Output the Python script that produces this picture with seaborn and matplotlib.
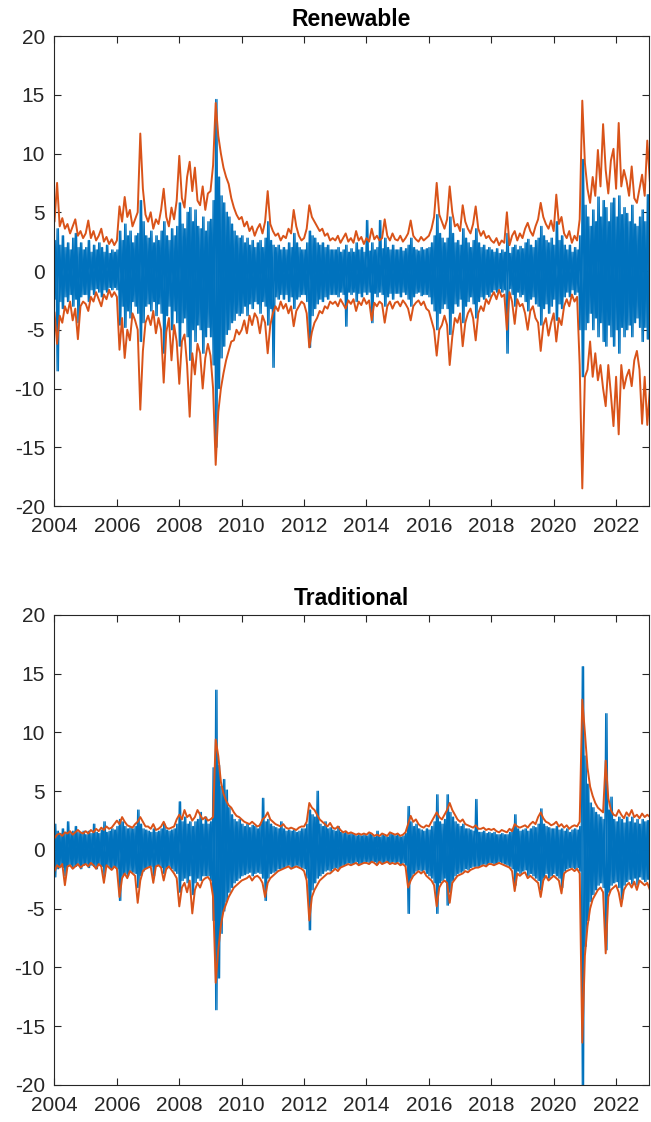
import numpy as np
import pandas as pd
import matplotlib
matplotlib.use("Agg")
import matplotlib.pyplot as plt
import seaborn as sns

# monthly readings, Jan 2004 .. Feb 2023 (one row per year)
months = pd.date_range("2004-01-01", "2023-02-01", freq="MS")

# Renewable: upper / lower band (orange) and return extremes (blue)
ren_upper = [
    4.2, 7.5, 3.8, 4.5, 3.6, 4.0, 3.2, 3.8, 4.4, 3.0, 3.4, 2.8,
    3.2, 4.3, 2.8, 3.4, 2.6, 3.0, 3.6, 2.5, 2.9, 2.3, 2.7, 2.2,
    2.6, 5.5, 4.2, 6.3, 4.6, 5.2, 3.8, 4.4, 5.0, 11.7, 7.0, 4.8,
    4.2, 5.0, 3.6, 4.4, 4.0, 5.2, 7.0, 4.6, 3.8, 5.4, 4.4, 6.0,
    9.8, 6.2, 5.4, 8.0, 9.3, 6.8, 8.8, 6.0, 5.6, 7.2, 5.2, 6.6,
    6.8, 9.0, 14.3, 11.5, 10.0, 8.8, 8.0, 7.4, 6.2, 5.4, 4.8, 4.4,
    4.6, 3.8, 4.2, 3.4, 3.8, 3.0, 3.6, 4.0, 3.2, 4.2, 6.8, 4.0,
    3.4, 3.0, 3.2, 2.6, 3.0, 2.8, 3.6, 3.2, 5.2, 3.8, 3.0, 2.6,
    2.8, 3.6, 5.6, 4.6, 4.2, 3.8, 3.4, 3.6, 3.0, 3.2, 2.6, 2.8,
    2.6, 3.0, 2.4, 2.8, 3.2, 2.5, 2.8, 2.4, 3.4, 2.6, 2.9, 2.3,
    2.8, 2.5, 3.6, 2.7, 3.0, 2.6, 2.8, 4.4, 3.0, 2.6, 3.2, 2.7,
    2.6, 3.0, 2.5, 2.8, 3.2, 4.3, 3.0, 2.7, 2.5, 2.9, 2.6, 2.8,
    3.0, 3.6, 4.6, 7.5, 4.8, 4.2, 3.6, 4.4, 7.2, 5.0, 3.8, 4.0,
    3.4, 5.6, 4.2, 3.6, 3.2, 4.0, 5.5, 3.6, 3.0, 3.4, 2.8, 3.0,
    2.6, 2.4, 2.8, 2.2, 2.6, 2.4, 5.0, 2.2, 3.0, 3.4, 2.6, 3.2,
    2.8, 3.6, 4.1, 3.4, 3.0, 3.8, 4.4, 5.8, 4.6, 4.0, 3.6, 4.3,
    3.4, 6.5, 4.0, 4.6, 3.2, 2.8, 3.4, 2.4, 3.0, 2.6, 4.4, 14.5,
    9.2, 7.0, 5.8, 8.0, 6.4, 10.3, 7.2, 12.5, 8.6, 6.6, 9.4, 10.4,
    7.0, 12.6, 7.2, 8.6, 7.7, 6.4, 8.9, 6.2, 5.8, 7.0, 8.2, 6.4,
    11.1, 7.6,
]
ren_lower = [
    -3.5, -6.2, -3.8, -4.4, -3.0, -3.6, -2.6, -4.2, -3.2, -5.8, -3.0, -2.6,
    -2.8, -3.4, -2.2, -2.6, -1.8, -2.4, -3.0, -2.0, -2.4, -1.6, -2.2, -1.8,
    -2.2, -6.7, -4.0, -7.4, -5.0, -5.9, -3.6, -4.2, -5.0, -11.8, -6.8, -4.4,
    -3.8, -4.6, -3.4, -5.3, -4.0, -5.0, -9.5, -5.2, -4.0, -7.6, -4.6, -6.0,
    -9.6, -6.0, -5.4, -8.0, -12.4, -7.0, -8.8, -6.2, -7.0, -10.0, -7.4, -6.2,
    -7.2, -10.0, -16.5, -12.0, -10.0, -8.7, -7.6, -6.8, -6.0, -5.9, -5.0, -5.4,
    -5.0, -4.2, -5.3, -3.8, -4.6, -3.6, -4.0, -5.3, -3.8, -4.4, -7.0, -4.6,
    -3.6, -3.0, -3.4, -2.6, -3.2, -2.8, -3.6, -3.0, -4.7, -3.4, -3.0, -2.6,
    -2.8, -3.6, -6.5, -5.2, -4.4, -4.0, -3.4, -3.6, -3.0, -3.2, -2.6, -2.8,
    -2.6, -3.0, -2.4, -2.8, -3.2, -2.5, -2.8, -2.4, -3.4, -2.6, -2.9, -2.3,
    -2.8, -2.5, -4.2, -2.7, -3.0, -2.6, -2.8, -4.4, -3.0, -2.6, -3.2, -2.7,
    -2.6, -3.0, -2.5, -2.8, -3.2, -4.2, -3.0, -2.7, -2.5, -2.9, -2.6, -3.2,
    -3.4, -4.2, -5.0, -7.2, -5.0, -4.6, -3.8, -4.6, -8.0, -5.6, -4.0, -4.4,
    -3.6, -6.4, -4.4, -3.6, -3.2, -4.0, -5.9, -3.6, -3.0, -3.4, -2.4, -2.8,
    -2.2, -1.8, -2.4, -1.6, -2.2, -2.0, -5.0, -1.8, -2.6, -4.5, -2.4, -3.0,
    -2.8, -3.6, -5.0, -3.4, -3.0, -4.0, -4.4, -6.8, -4.6, -4.0, -5.5, -4.4,
    -3.6, -6.0, -4.0, -4.6, -3.0, -2.4, -3.0, -2.0, -2.6, -2.2, -8.0, -18.5,
    -9.0, -8.4, -6.0, -9.0, -7.0, -9.3, -8.0, -10.0, -11.5, -8.0, -10.5, -13.2,
    -9.0, -13.9, -8.0, -10.0, -9.0, -8.4, -9.8, -7.6, -6.8, -8.4, -13.0, -9.0,
    -13.1, -10.0,
]
ren_ret_hi = [
    2.6, 3.6, 2.2, 3.0, 2.0, 2.4, 1.8, 2.8, 3.2, 2.0, 2.4, 1.8,
    2.0, 2.6, 1.6, 2.2, 1.8, 2.4, 2.0, 1.6, 2.2, 1.5, 1.8, 1.6,
    1.8, 3.4, 2.6, 4.0, 3.0, 3.4, 2.4, 3.0, 3.2, 6.0, 4.2, 3.0,
    2.8, 3.4, 2.4, 3.0, 2.6, 3.4, 4.2, 3.0, 2.6, 3.6, 3.0, 3.8,
    5.8, 4.0, 3.6, 5.0, 5.4, 4.2, 5.2, 3.8, 3.6, 4.6, 3.4, 4.2,
    4.4, 6.0, 14.6, 8.0, 6.4, 5.8, 5.0, 4.6, 4.0, 3.4, 3.0, 2.8,
    3.0, 2.4, 2.8, 2.2, 2.6, 2.0, 2.4, 2.6, 2.0, 2.8, 4.2, 2.6,
    2.2, 2.0, 2.2, 1.8, 2.0, 1.8, 2.4, 2.0, 3.2, 2.4, 2.0, 1.8,
    1.8, 2.4, 3.4, 3.0, 2.8, 2.4, 2.2, 2.4, 2.0, 2.2, 1.8, 1.8,
    1.8, 2.0, 1.6, 1.8, 2.2, 1.6, 1.9, 1.6, 2.4, 1.8, 2.0, 1.6,
    4.3, 1.7, 2.4, 1.8, 2.0, 4.3, 1.9, 2.8, 2.0, 1.8, 2.2, 1.8,
    1.8, 2.0, 1.7, 1.9, 2.2, 2.8, 2.0, 1.8, 1.7, 2.0, 1.8, 1.9,
    2.0, 2.4, 3.0, 4.8, 3.2, 2.8, 2.4, 2.8, 4.6, 3.2, 2.4, 2.6,
    2.2, 3.6, 2.8, 2.4, 2.0, 2.6, 3.6, 2.4, 2.0, 2.2, 1.8, 2.0,
    1.8, 1.6, 1.9, 1.5, 1.8, 1.6, 3.2, 1.5, 2.0, 2.2, 1.8, 2.1,
    1.9, 2.4, 2.7, 2.2, 2.0, 2.6, 2.8, 3.8, 3.0, 2.6, 2.4, 2.8,
    2.2, 4.2, 2.6, 3.0, 2.2, 1.8, 2.2, 1.6, 2.0, 1.8, 3.0, 9.5,
    5.6, 4.6, 3.8, 5.2, 4.2, 6.3, 4.6, 6.0, 5.4, 4.2, 5.8, 6.2,
    4.6, 6.4, 4.8, 5.4, 4.9, 4.2, 5.6, 4.0, 3.8, 4.6, 5.2, 4.2,
    6.5, 8.0,
]
ren_ret_lo = [
    -2.4, -8.5, -2.6, -3.2, -2.2, -2.6, -2.0, -3.0, -2.4, -4.4, -2.2, -2.0,
    -2.0, -2.6, -1.6, -2.0, -1.5, -1.8, -2.2, -1.6, -1.8, -1.4, -1.6, -1.4,
    -1.6, -4.6, -3.0, -4.8, -3.4, -4.0, -2.6, -3.0, -3.6, -6.0, -4.4, -3.0,
    -2.8, -3.4, -2.6, -3.8, -2.8, -3.6, -7.0, -3.8, -3.0, -5.0, -3.4, -4.4,
    -6.4, -4.4, -4.0, -5.6, -7.6, -5.0, -6.0, -4.6, -5.0, -7.0, -5.6, -4.8,
    -5.6, -8.0, -15.0, -10.0, -7.4, -6.4, -5.4, -5.0, -4.4, -4.2, -3.6, -3.8,
    -3.6, -3.0, -3.8, -2.8, -3.2, -2.6, -2.8, -3.6, -2.6, -3.0, -4.6, -3.2,
    -8.2, -2.2, -2.4, -2.0, -2.4, -2.0, -2.6, -2.2, -3.2, -2.4, -2.2, -2.0,
    -2.0, -2.6, -6.5, -3.8, -3.2, -2.8, -2.4, -2.6, -2.2, -2.4, -2.0, -2.0,
    -2.0, -2.2, -1.8, -2.0, -4.7, -1.8, -2.0, -1.8, -2.6, -1.9, -2.2, -1.8,
    -2.0, -1.8, -4.4, -1.9, -2.2, -1.8, -2.0, -3.0, -2.2, -1.9, -2.4, -1.9,
    -1.9, -2.2, -1.8, -2.0, -2.4, -3.0, -2.2, -1.9, -1.8, -2.1, -2.0, -2.0,
    -2.2, -2.8, -3.4, -5.0, -3.6, -3.2, -2.8, -3.2, -5.4, -3.6, -2.8, -3.0,
    -2.4, -4.4, -3.0, -2.6, -2.2, -2.8, -4.0, -2.6, -2.2, -2.4, -2.0, -2.2,
    -1.8, -1.6, -1.8, -1.5, -1.8, -1.6, -7.0, -1.5, -2.0, -3.0, -1.8, -2.2,
    -2.0, -2.6, -3.4, -2.4, -2.2, -2.8, -3.0, -4.6, -3.2, -2.8, -3.6, -3.0,
    -2.4, -4.2, -2.8, -3.2, -2.2, -1.8, -2.2, -1.6, -2.0, -1.8, -5.0, -9.0,
    -5.0, -4.4, -3.6, -5.0, -4.0, -5.6, -4.4, -6.0, -6.4, -4.6, -5.6, -6.4,
    -5.0, -7.0, -4.8, -5.6, -5.0, -4.6, -5.6, -4.4, -4.0, -4.8, -6.0, -4.8,
    -5.8, -5.0,
]

# Traditional
trad_upper = [
    1.0, 1.3, 1.4, 1.2, 1.5, 1.4, 1.6, 1.3, 1.5, 1.7, 1.5, 1.4,
    1.6, 1.4, 1.7, 1.5, 1.8, 1.6, 1.9, 1.7, 2.0, 1.8, 1.9, 2.2,
    2.5, 2.2, 2.8, 2.4, 2.1, 2.0, 1.9, 2.2, 2.4, 2.8, 2.4, 2.0,
    2.0, 1.8, 2.2, 1.7, 1.8, 2.0, 2.4, 1.9, 1.8, 1.9, 2.0, 2.6,
    3.0, 2.6, 3.4, 2.8, 3.0, 2.5, 2.8, 3.4, 3.0, 2.6, 2.8, 2.5,
    2.6, 2.8, 9.4, 8.0, 5.8, 4.8, 4.2, 3.8, 3.6, 3.2, 2.9, 2.8,
    2.6, 2.4, 2.3, 2.2, 2.4, 2.2, 2.0, 2.1, 2.6, 2.8, 3.2, 2.6,
    2.4, 2.2, 2.1, 2.0, 2.2, 1.9, 1.8, 1.9, 1.8, 1.7, 1.9, 2.0,
    2.0, 2.4, 4.0, 3.6, 3.4, 3.0, 2.6, 2.4, 2.2, 2.0, 2.3, 1.9,
    1.8, 2.0, 1.7, 1.5, 1.6, 1.4, 1.5, 1.4, 1.3, 1.4, 1.3, 1.4,
    1.3, 1.5, 1.4, 1.2, 1.3, 1.2, 1.4, 1.3, 1.2, 1.5, 1.4, 1.3,
    1.4, 1.2, 1.3, 1.5, 2.2, 2.9, 2.4, 2.6, 2.2, 2.0, 1.9, 2.1,
    2.0, 2.4, 2.8, 3.2, 2.8, 2.6, 3.0, 3.4, 4.0, 3.4, 3.0, 2.6,
    2.4, 2.6, 2.2, 2.1, 2.0, 1.9, 2.1, 1.8, 1.8, 1.9, 1.7, 1.8,
    1.7, 1.8, 1.6, 1.5, 1.7, 1.6, 1.5, 1.8, 1.6, 2.2, 2.0, 1.9,
    2.0, 2.1, 1.9, 2.2, 2.4, 2.2, 2.8, 3.2, 2.7, 2.4, 2.3, 2.1,
    2.2, 2.4, 2.0, 2.2, 1.9, 2.1, 1.8, 2.0, 2.1, 2.0, 2.4, 12.8,
    10.0, 7.0, 5.4, 4.6, 4.0, 3.6, 3.4, 3.2, 7.6, 4.4, 3.4, 3.0,
    2.9, 3.4, 3.0, 2.7, 3.2, 2.9, 3.4, 2.8, 3.0, 2.7, 3.1, 2.8,
    3.0, 2.8,
]
trad_lower = [
    -1.8, -1.3, -1.5, -1.2, -3.0, -1.4, -1.3, -1.6, -1.4, -1.2, -1.5, -1.3,
    -1.2, -1.4, -1.1, -1.3, -1.6, -1.2, -1.4, -2.8, -1.3, -1.5, -1.7, -1.4,
    -1.6, -4.0, -2.4, -2.0, -2.4, -1.8, -2.0, -2.2, -4.5, -2.6, -1.8, -1.6,
    -1.5, -1.4, -2.8, -1.4, -1.3, -1.5, -2.6, -1.6, -1.4, -1.7, -2.0, -2.4,
    -4.8, -3.2, -2.8, -3.6, -2.6, -5.4, -3.4, -2.8, -3.2, -2.6, -2.4, -2.3,
    -2.6, -4.0, -11.3, -8.5, -6.4, -5.2, -4.6, -4.0, -3.6, -3.2, -3.0, -2.8,
    -2.6, -2.5, -2.4, -2.2, -2.6, -2.3, -2.2, -2.4, -2.8, -4.0, -2.8, -2.4,
    -2.2, -2.0, -1.8, -1.7, -1.6, -1.5, -1.4, -1.6, -1.5, -1.4, -1.5, -1.6,
    -1.8, -2.6, -6.0, -4.0, -3.4, -3.0, -2.6, -2.4, -2.2, -2.0, -2.0, -1.8,
    -1.6, -1.8, -1.5, -1.4, -1.3, -1.2, -1.3, -1.2, -1.1, -1.3, -1.2, -1.1,
    -1.1, -1.2, -1.0, -1.1, -1.3, -1.0, -1.2, -1.1, -1.0, -1.2, -1.1, -1.2,
    -1.1, -1.3, -1.2, -1.4, -3.2, -2.6, -2.2, -2.0, -1.8, -2.0, -1.8, -2.2,
    -2.4, -2.6, -3.0, -4.8, -3.2, -2.8, -2.6, -2.8, -4.5, -2.8, -2.5, -2.2,
    -2.1, -2.0, -1.8, -1.9, -1.7, -1.6, -1.5, -1.5, -1.4, -1.3, -1.4, -1.2,
    -1.2, -1.3, -1.2, -1.1, -1.2, -1.3, -1.4, -1.5, -1.8, -3.5, -2.0, -2.2,
    -2.0, -1.9, -2.4, -2.2, -2.4, -2.6, -2.8, -4.0, -2.6, -2.2, -2.6, -2.4,
    -2.2, -2.4, -2.6, -3.7, -2.0, -1.8, -1.7, -1.6, -1.8, -1.6, -2.0, -16.4,
    -9.0, -6.5, -5.0, -4.2, -3.8, -3.4, -3.2, -3.6, -8.8, -4.0, -3.4, -3.2,
    -3.0, -3.6, -4.8, -3.4, -3.0, -2.8, -3.2, -2.7, -3.4, -2.6, -2.8, -3.0,
    -2.8, -3.4,
]
trad_ret_hi = [
    2.2, 1.6, 1.4, 1.8, 1.5, 2.4, 1.4, 1.6, 2.0, 1.5, 1.4, 1.6,
    1.3, 1.6, 1.4, 2.2, 1.5, 1.4, 1.7, 2.4, 1.5, 1.6, 1.8, 1.7,
    2.0, 2.6, 2.4, 2.0, 1.8, 1.9, 1.8, 2.0, 3.4, 2.2, 1.8, 1.7,
    1.6, 1.5, 1.8, 1.5, 1.6, 1.8, 2.2, 1.7, 1.6, 1.7, 1.8, 2.2,
    4.1, 2.4, 2.8, 2.2, 2.4, 2.0, 2.4, 2.6, 3.2, 2.2, 2.8, 2.2,
    2.4, 7.0, 13.6, 7.2, 5.4, 6.0, 5.1, 3.6, 3.0, 2.6, 2.4, 2.6,
    2.2, 2.0, 2.2, 1.9, 2.1, 2.0, 1.8, 2.2, 4.4, 2.4, 2.6, 2.2,
    2.0, 1.9, 1.8, 2.4, 1.8, 1.6, 1.7, 1.6, 1.7, 1.5, 1.6, 1.8,
    1.8, 2.2, 3.4, 3.0, 2.8, 5.0, 2.2, 2.0, 2.4, 1.8, 1.9, 1.7,
    1.6, 2.0, 1.5, 1.4, 1.5, 1.3, 1.4, 1.3, 1.2, 1.3, 1.2, 1.3,
    1.2, 1.4, 1.3, 1.1, 1.6, 1.1, 1.3, 1.2, 1.1, 1.4, 1.3, 1.2,
    1.3, 1.1, 1.2, 1.4, 3.7, 2.4, 2.0, 2.2, 1.8, 1.7, 1.6, 1.8,
    1.7, 2.0, 2.4, 4.7, 2.4, 2.2, 2.6, 4.7, 3.2, 2.8, 2.4, 2.2,
    2.0, 2.2, 1.8, 1.8, 1.7, 1.6, 4.3, 1.5, 1.5, 1.6, 1.4, 1.5,
    1.4, 1.5, 1.3, 1.3, 1.4, 1.3, 1.3, 1.5, 1.8, 3.0, 1.8, 1.6,
    1.7, 1.8, 1.6, 1.8, 2.0, 1.9, 2.2, 3.5, 2.2, 2.0, 1.9, 1.8,
    1.8, 2.0, 1.7, 1.8, 1.6, 1.8, 1.5, 1.7, 1.8, 1.7, 2.0, 15.6,
    8.0, 5.6, 4.0, 3.6, 3.2, 3.0, 2.8, 2.6, 11.6, 3.4, 4.5, 2.6,
    2.4, 2.8, 2.6, 2.3, 2.8, 2.4, 2.8, 2.3, 2.6, 2.2, 2.6, 2.4,
    2.5, 2.4,
]
trad_ret_lo = [
    -2.3, -1.6, -1.4, -1.5, -2.2, -1.4, -1.3, -1.5, -1.4, -1.3, -1.6, -1.3,
    -1.2, -1.5, -1.3, -1.4, -1.6, -1.3, -1.4, -2.2, -1.3, -1.5, -1.6, -1.5,
    -1.6, -4.3, -2.2, -2.0, -2.2, -1.8, -1.9, -2.0, -3.2, -2.2, -1.8, -1.6,
    -1.5, -1.4, -2.2, -1.4, -1.3, -1.5, -2.0, -1.6, -1.4, -1.6, -1.8, -2.0,
    -3.6, -2.6, -2.4, -2.8, -2.2, -3.8, -2.8, -2.4, -2.6, -2.2, -2.2, -2.2,
    -2.6, -6.0, -13.6, -10.9, -7.1, -5.2, -4.4, -3.6, -3.2, -2.8, -2.6, -2.4,
    -2.2, -2.1, -2.0, -1.9, -2.2, -2.0, -1.9, -2.0, -2.4, -4.3, -2.4, -2.0,
    -1.9, -1.8, -1.6, -1.6, -1.5, -1.4, -1.3, -1.5, -1.4, -1.3, -1.4, -1.5,
    -1.6, -2.4, -6.8, -3.4, -2.8, -2.4, -2.2, -2.0, -1.8, -1.7, -1.8, -1.6,
    -1.5, -1.6, -1.4, -1.3, -1.2, -1.1, -1.2, -1.1, -1.0, -1.2, -1.1, -1.0,
    -1.0, -1.1, -1.0, -1.0, -1.2, -1.0, -1.1, -1.0, -1.0, -1.1, -1.0, -1.1,
    -1.0, -1.2, -1.1, -1.3, -5.4, -2.4, -2.0, -1.8, -1.7, -1.8, -1.7, -2.0,
    -2.2, -2.4, -2.8, -5.4, -2.8, -2.6, -2.4, -4.7, -3.6, -2.6, -2.2, -2.0,
    -1.9, -1.8, -1.6, -1.7, -1.5, -1.4, -1.4, -1.4, -1.3, -1.2, -1.3, -1.1,
    -1.1, -1.2, -1.1, -1.0, -1.1, -1.2, -1.3, -1.4, -1.6, -3.0, -1.8, -2.0,
    -1.8, -1.7, -2.2, -2.0, -2.2, -2.4, -2.6, -3.4, -2.4, -2.0, -2.4, -2.2,
    -2.0, -2.2, -2.4, -3.2, -1.8, -1.6, -1.5, -1.5, -1.6, -1.5, -1.8, -20.0,
    -8.2, -6.0, -4.4, -3.8, -3.4, -3.0, -2.8, -3.2, -8.5, -3.6, -3.0, -2.8,
    -2.7, -3.2, -4.2, -3.0, -2.7, -2.5, -2.9, -2.4, -3.0, -2.3, -2.5, -2.7,
    -2.5, -3.0,
]

BLUE = "#0072BD"
ORANGE = "#D95319"
GREY = "#262626"

sns.set_style("ticks")
plt.rcParams["font.family"] = ["Liberation Sans", "DejaVu Sans"]
plt.rcParams["axes.unicode_minus"] = False

# decimal year of each month
t = np.asarray(months.year + (months.month - 1) / 12.0, dtype=float)


def zigzag(first, second):
    # alternate between the two extremes each half month
    n = len(t)
    zx = np.empty(2 * n)
    zy = np.empty(2 * n)
    zx[0::2] = t
    zx[1::2] = t + 1 / 24
    zy[0::2] = first
    zy[1::2] = second
    return zx, zy


def draw_panel(ax, title, upper, lower, ret_hi, ret_lo):
    # returns: two crossing traces so the core reads as a dense band
    for a, b in [(ret_hi, ret_lo), (ret_lo, ret_hi)]:
        zx, zy = zigzag(a, b)
        sns.lineplot(x=zx, y=zy, sort=False, estimator=None, color=BLUE,
                     linewidth=0.9, ax=ax)
    for band in (upper, lower):
        sns.lineplot(x=t, y=band, estimator=None, color=ORANGE,
                     linewidth=1.4, ax=ax)

    ax.set_xlim(2004, 2023.05)
    ax.set_ylim(-20, 20)
    ax.set_xticks(range(2004, 2023, 2))
    ax.set_yticks(range(-20, 21, 5))
    ax.tick_params(direction="in", length=5, width=0.8, colors=GREY,
                   labelsize=15, top=True, right=True, labelcolor=GREY)
    ax.tick_params(axis="x", pad=8)
    ax.tick_params(axis="y", pad=7)
    for sp in ax.spines.values():
        sp.set_visible(True)
        sp.set_color(GREY)
        sp.set_linewidth(0.8)
    ax.set_title(title, fontsize=16.5, fontweight="bold", pad=7, color="black")
    ax.set_xlabel("")
    ax.set_ylabel("")


fig = plt.figure(figsize=(6.51, 11.22), dpi=100)
ax1 = fig.add_axes([0.0837, 0.549, 0.913, 0.4189])
ax2 = fig.add_axes([0.0837, 0.033, 0.913, 0.4189])

draw_panel(ax1, "Renewable", ren_upper, ren_lower, ren_ret_hi, ren_ret_lo)
draw_panel(ax2, "Traditional", trad_upper, trad_lower, trad_ret_hi, trad_ret_lo)

fig.savefig("out.png", dpi=100)
